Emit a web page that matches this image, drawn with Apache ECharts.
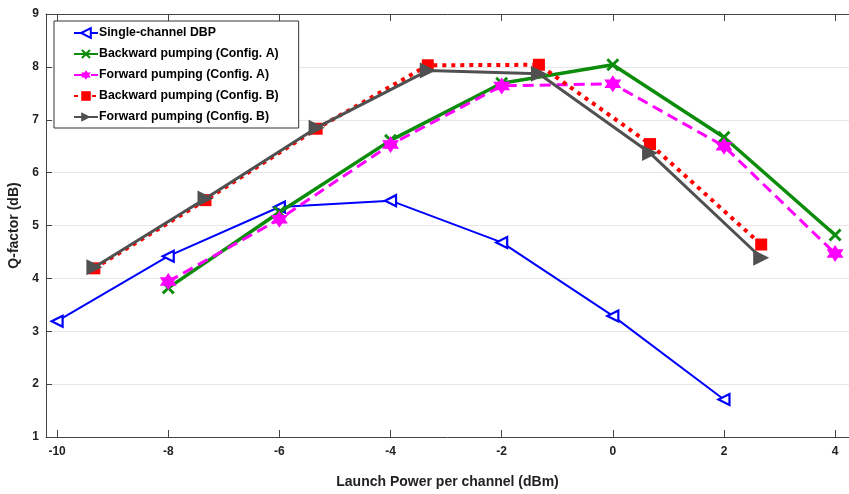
<!DOCTYPE html>
<html>
<head>
<meta charset="utf-8">
<script src="https://cdn.jsdelivr.net/npm/echarts@6/dist/echarts.min.js"></script>
<style>
  html, body { margin: 0; padding: 0; background: #fff; }
  #chart { width: 849px; height: 494px; }
</style>
</head>
<body>
<div id="chart"></div>
<script>
// launch power (dBm)
const powerA = [-10, -8, -6, -4, -2, 0, 2]
const powerFwd = [-8, -6, -4, -2, 0, 2, 4]
const powerB = [-9.33, -7.33, -5.33, -3.33, -1.33, 0.67, 2.67]

// Q-factor (dB)
const singleDbp = [3.19, 4.42, 5.35, 5.47, 4.68, 3.29, 1.71]
const backwardA = [3.82, 5.25, 6.61, 7.69, 8.04, 6.67, 4.82]
const forwardA = [3.94, 5.12, 6.53, 7.64, 7.68, 6.50, 4.47]
const backwardB = [4.19, 5.48, 6.83, 8.03, 8.04, 6.54, 4.64]
const forwardB = [4.21, 5.51, 6.85, 7.93, 7.87, 6.37, 4.39]

const xTicks = [-10, -8, -6, -4, -2, 0, 2, 4]

const seriesNames = [
  'Single-channel DBP',
  'Backward pumping (Config. A)',
  'Forward pumping (Config. A)',
  'Backward pumping (Config. B)',
  'Forward pumping (Config. B)',
]

const xPath = 'path://M2,4.5 L4.5,2 L10,7.5 L15.5,2 L18,4.5 L12.5,10 L18,15.5 L15.5,18 L10,12.5 L4.5,18 L2,15.5 L7.5,10 Z'
const starPath = 'path://M10,0 L7.11,5 L1.34,5 L4.23,10 L1.34,15 L7.11,15 L10,20 L12.89,15 L18.66,15 L15.77,10 L18.66,5 L12.89,5 Z'

function pairs(xs, ys) {
  return xs.map((x, i) => [x, ys[i]])
}

const axisColor = '#444'
const font = 'Liberation Sans, Arial, Helvetica, sans-serif'

const chart = echarts.init(document.getElementById('chart'))

chart.setOption({
  animation: false,
  textStyle: { fontFamily: font },
  grid: { left: 46, right: 0, top: 14, bottom: 57, containLabel: false, outerBoundsMode: 'none' },
  legend: {
    orient: 'vertical',
    left: 54,
    top: 21,
    padding: [6, 20, 5, 19],
    itemGap: 9,
    itemWidth: 24,
    itemHeight: 12,
    backgroundColor: '#fff',
    borderColor: '#333',
    borderWidth: 1,
    borderRadius: 0,
    textStyle: { fontFamily: font, fontWeight: 'bold', fontSize: 12.3, color: '#000', padding: [0, 0, 0, -4] },
    data: seriesNames,
  },
  xAxis: [{
    type: 'value',
    min: -10.2,
    max: 4.25,
    name: 'Launch Power per channel (dBm)',
    nameLocation: 'middle',
    nameGap: 38,
    nameTextStyle: { fontFamily: font, fontWeight: 'bold', fontSize: 14, color: '#222' },
    axisLine: { show: true, onZero: false, lineStyle: { color: axisColor, width: 1 } },
    axisTick: { show: true, inside: true, length: 7, customValues: xTicks, lineStyle: { color: axisColor } },
    axisLabel: { customValues: xTicks, margin: 9, fontWeight: 'bold', fontSize: 12, color: '#222' },
    splitLine: { show: false },
  }, {
    type: 'value',
    position: 'top',
    min: -10.2,
    max: 4.25,
    axisLine: { show: true, onZero: false, lineStyle: { color: axisColor, width: 1 } },
    axisTick: { show: true, inside: true, length: 7, customValues: xTicks, lineStyle: { color: axisColor } },
    axisLabel: { show: false },
    splitLine: { show: false },
  }],
  yAxis: {
    type: 'value',
    min: 1,
    max: 9,
    interval: 1,
    name: 'Q-factor (dB)',
    nameLocation: 'middle',
    nameGap: 19,
    nameTextStyle: { fontFamily: font, fontWeight: 'bold', fontSize: 14, color: '#222' },
    axisLine: { show: true, onZero: false, lineStyle: { color: axisColor, width: 1 } },
    axisTick: { show: true, inside: true, length: 6, lineStyle: { color: axisColor } },
    axisLabel: { margin: 7, fontWeight: 'bold', fontSize: 12, color: '#222' },
    splitLine: { show: true, lineStyle: { color: '#e6e6e6', width: 1 } },
  },
  series: [{
    name: seriesNames[0],
    type: 'line',
    data: pairs(powerA, singleDbp),
    symbol: 'triangle',
    symbolRotate: 90,
    symbolSize: 11,
    lineStyle: { color: '#0000ff', width: 2 },
    itemStyle: { color: '#fff', borderColor: '#0000ff', borderWidth: 2.2 },
    z: 2,
  }, {
    name: seriesNames[1],
    type: 'line',
    data: pairs(powerFwd, backwardA),
    symbol: xPath,
    symbolSize: 13,
    lineStyle: { color: '#0b8c0b', width: 3.5 },
    itemStyle: { color: '#0b8c0b' },
    z: 3,
  }, {
    name: seriesNames[2],
    type: 'line',
    data: pairs(powerFwd, forwardA),
    symbol: starPath,
    symbolSize: 17,
    lineStyle: { color: '#ff00ff', width: 3, type: [11, 6] },
    itemStyle: { color: '#ff00ff' },
    z: 4,
  }, {
    name: seriesNames[3],
    type: 'line',
    data: pairs(powerB, backwardB),
    symbol: 'rect',
    symbolSize: 12,
    lineStyle: { color: '#ff0000', width: 4, type: [4, 5] },
    itemStyle: { color: '#ff0000' },
    z: 5,
  }, {
    name: seriesNames[4],
    type: 'line',
    data: pairs(powerB, forwardB),
    symbol: 'triangle',
    symbolRotate: -90,
    symbolSize: 16,
    lineStyle: { color: '#505050', width: 3 },
    itemStyle: { color: '#505050' },
    z: 6,
  }],
})
</script>
</body>
</html>
